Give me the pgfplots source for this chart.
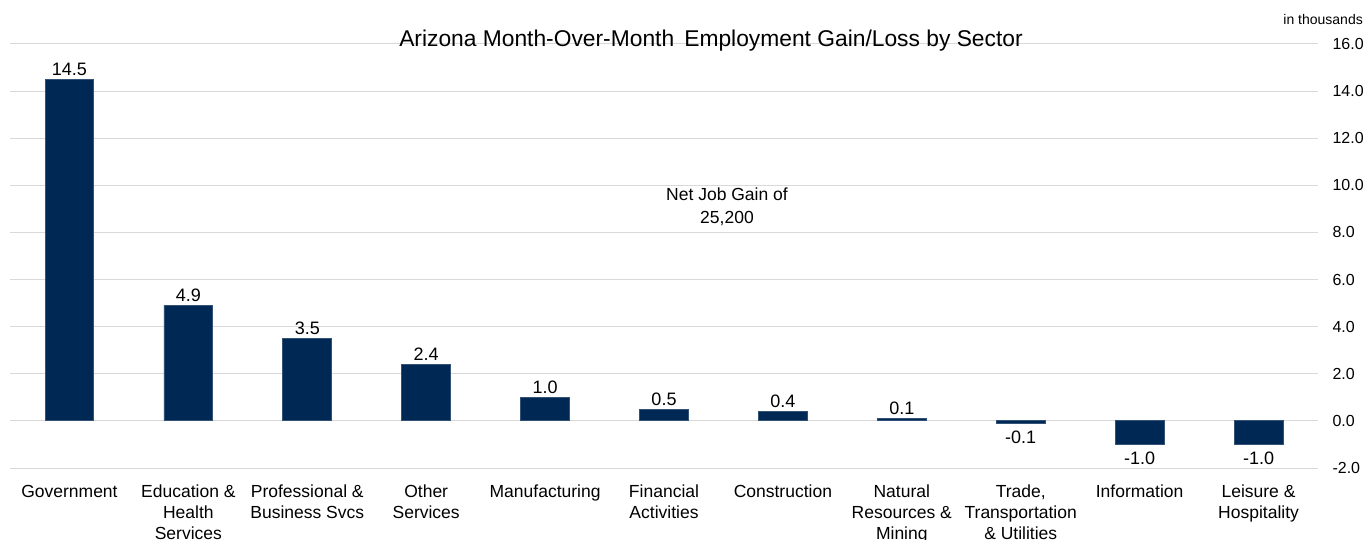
\documentclass[border=0pt]{standalone}
\usepackage{pgfplots}
\pgfplotsset{compat=1.18}
\usepackage{fontspec}
\setmainfont{Liberation Sans}
\definecolor{navy}{RGB}{0,40,84}
\definecolor{gridc}{RGB}{217,217,217}
\begin{document}
\begin{tikzpicture}
\path[use as bounding box] (-10bp,-72bp) rectangle (1357bp,468bp);
\begin{axis}[
  scale only axis,
  width=1308bp, height=424bp,
  xmin=-0.5, xmax=10.5,
  ymin=-2, ymax=16,
  ytick={-2,0,...,16},
  axis y line*=right,
  axis x line=none,
  axis line style={draw=none},
  y axis line style={draw=none},
  major tick length=0pt,
  ymajorgrids,
  grid style={gridc, line width=1pt},
  yticklabel pos=right,
  yticklabel style={/pgf/number format/fixed,/pgf/number format/zerofill,/pgf/number format/precision=1,
    font=\fontsize{16bp}{18bp}\selectfont, xshift=11bp},
  /pgf/number format/assume math mode=true,
  ybar, bar width=0.41, bar shift=0pt,
  nodes near coords,
  nodes near coords style={font=\fontsize{18bp}{20bp}\selectfont,
    /pgf/number format/fixed,/pgf/number format/zerofill,/pgf/number format/precision=1},
  clip=false,
]
\addplot[fill=navy, draw=navy!80!white, line width=0.8pt] coordinates {
(0,14.5) (1,4.9) (2,3.5) (3,2.4) (4,1.0) (5,0.5) (6,0.4) (7,0.1)};
\addplot[fill=navy, draw=navy!80!white, line width=0.8pt,
  nodes near coords style={yshift=-4bp}] coordinates {
(8,-0.1) (9,-1.0) (10,-1.0)};
\end{axis}
\begin{scope}[font=\fontsize{17.5bp}{20.7bp}\selectfont]
\foreach \i/\t in {0/{Government},1/{Education \&\\Health\\Services},2/{Professional \&\\Business Svcs},3/{Other\\Services},4/{Manufacturing},5/{Financial\\Activities},6/{Construction},7/{Natural\\Resources \&\\Mining},8/{Trade,\\Transportation\\\& Utilities},9/{Information},10/{Leisure \&\\Hospitality}}{
  \node[anchor=north, align=center, inner sep=0pt] at ({(0.5+\i)*1308/11*1bp}, -17bp) {\t};
}
\end{scope}
\node[font=\fontsize{22.8bp}{24bp}\selectfont] at (701bp, 427bp) {Arizona Month-Over-Month\, Employment Gain/Loss by Sector};
\node[font=\fontsize{14bp}{16bp}\selectfont, anchor=east, inner sep=0pt] at (1353bp, 448bp) {in thousands};
\node[font=\fontsize{17.5bp}{23bp}\selectfont, align=center] at (717bp, 261bp) {Net Job Gain of\\25,200};
\end{tikzpicture}
\end{document}
